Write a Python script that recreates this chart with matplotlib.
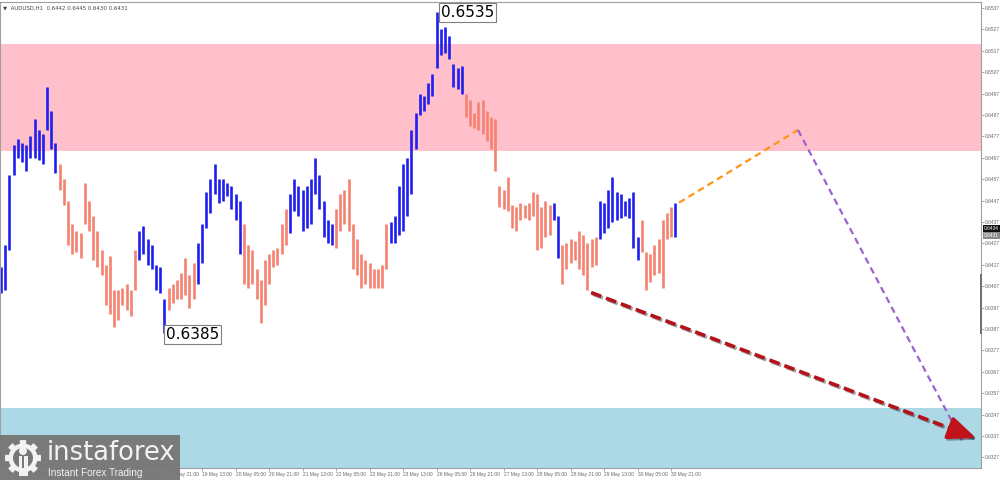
"""
AUDUSD H1 wave chart with forecast paths, redrawn with matplotlib.
"""
import numpy as np
import matplotlib
matplotlib.use('Agg')
import matplotlib.pyplot as plt
import matplotlib.patches as mpatches
import matplotlib.patheffects as pe
import matplotlib.transforms as mtransforms


# each bar below covers two hours of the H1 chart
BAR_HOURS = 2

bar_high = [
    0.6416, 0.6426, 0.6459, 0.6473, 0.6476, 0.6474, 0.6473, 0.6477, 0.6485, 0.6480,
    0.6478, 0.6500, 0.6489, 0.6474, 0.6464, 0.6457, 0.6447, 0.6436, 0.6433, 0.6432,
    0.6455, 0.6447, 0.6440, 0.6433, 0.6424, 0.6417, 0.6421, 0.6405, 0.6405, 0.6406,
    0.6408, 0.6405, 0.6424, 0.6433, 0.6435, 0.6429, 0.6426, 0.6417, 0.6416, 0.6401,
    0.6406, 0.6408, 0.6410, 0.6413, 0.6420, 0.6412, 0.6418, 0.6427, 0.6436, 0.6451,
    0.6457, 0.6464, 0.6457, 0.6457, 0.6455, 0.6454, 0.6450, 0.6447, 0.6436, 0.6426,
    0.6424, 0.6415, 0.6410, 0.6419, 0.6422, 0.6424, 0.6425, 0.6436, 0.6443, 0.6450,
    0.6457, 0.6454, 0.6452, 0.6454, 0.6457, 0.6467, 0.6459, 0.6447, 0.6438, 0.6436,
    0.6443, 0.6450, 0.6452, 0.6457, 0.6436, 0.6429, 0.6422, 0.6419, 0.6418, 0.6415,
    0.6415, 0.6417, 0.6436, 0.6437, 0.6440, 0.6454, 0.6464, 0.6467, 0.6480, 0.6488,
    0.6497, 0.6496, 0.6502, 0.6506, 0.6535, 0.6527, 0.6528, 0.6524, 0.6511, 0.6509,
    0.6510, 0.6497, 0.6494, 0.6488, 0.6493, 0.6494, 0.6489, 0.6486, 0.6485, 0.6454,
    0.6452, 0.6458, 0.6445, 0.6444, 0.6446, 0.6445, 0.6446, 0.6451, 0.6450, 0.6444,
    0.6447, 0.6445, 0.6446, 0.6440, 0.6426, 0.6427, 0.6429, 0.6428, 0.6433, 0.6431,
    0.6427, 0.6429, 0.6430, 0.6447, 0.6446, 0.6452, 0.6458, 0.6451, 0.6450, 0.6447,
    0.6448, 0.6451, 0.6430, 0.6438, 0.6423, 0.6422, 0.6426, 0.6429, 0.6438, 0.6441,
    0.6444, 0.6446,
]

bar_low = [
    0.6404, 0.6405, 0.6424, 0.6459, 0.6467, 0.6465, 0.6461, 0.6467, 0.6467, 0.6466,
    0.6464, 0.6480, 0.6471, 0.6460, 0.6452, 0.6445, 0.6426, 0.6422, 0.6423, 0.6420,
    0.6436, 0.6433, 0.6419, 0.6416, 0.6412, 0.6398, 0.6394, 0.6388, 0.6391, 0.6398,
    0.6396, 0.6393, 0.6405, 0.6419, 0.6422, 0.6417, 0.6415, 0.6405, 0.6404, 0.6385,
    0.6396, 0.6399, 0.6401, 0.6401, 0.6403, 0.6397, 0.6401, 0.6408, 0.6418, 0.6434,
    0.6441, 0.6450, 0.6446, 0.6447, 0.6449, 0.6443, 0.6438, 0.6422, 0.6408, 0.6406,
    0.6408, 0.6401, 0.6390, 0.6398, 0.6408, 0.6416, 0.6417, 0.6422, 0.6426, 0.6432,
    0.6442, 0.6440, 0.6433, 0.6434, 0.6436, 0.6450, 0.6443, 0.6430, 0.6427, 0.6426,
    0.6425, 0.6433, 0.6436, 0.6433, 0.6415, 0.6412, 0.6406, 0.6408, 0.6406, 0.6406,
    0.6406, 0.6406, 0.6415, 0.6427, 0.6427, 0.6431, 0.6433, 0.6440, 0.6450, 0.6471,
    0.6487, 0.6489, 0.6492, 0.6496, 0.6509, 0.6515, 0.6516, 0.6513, 0.6500, 0.6499,
    0.6497, 0.6486, 0.6482, 0.6481, 0.6480, 0.6478, 0.6475, 0.6471, 0.6461, 0.6444,
    0.6443, 0.6442, 0.6434, 0.6433, 0.6438, 0.6439, 0.6438, 0.6440, 0.6424, 0.6425,
    0.6430, 0.6431, 0.6438, 0.6420, 0.6408, 0.6415, 0.6418, 0.6419, 0.6415, 0.6412,
    0.6405, 0.6416, 0.6417, 0.6429, 0.6432, 0.6434, 0.6437, 0.6438, 0.6439, 0.6440,
    0.6439, 0.6425, 0.6419, 0.6423, 0.6405, 0.6409, 0.6412, 0.6413, 0.6406, 0.6429,
    0.6430, 0.6430,
]

# bar index ranges of the rising waves (drawn blue), the rest are falling
up_waves = [(0, 13), (33, 39), (47, 57), (69, 79), (93, 110), (132, 133), (143, 152), (161, 161)]

resistance_zone = (0.6470, 0.6520)
support_zone = (0.6300, 0.6350)

# forecast paths, x in chart hours
orange_x = [323.8, 380.6]
orange_y = [0.6446, 0.6480]
purple_x = [380.6, 459.4]
purple_y = [0.6480, 0.6334]
red_x = [281.8, 465.6]
red_y = [0.6404, 0.6336]

high_mark = 0.6535
low_mark = 0.6385
ask_price = 0.6434
bid_price = 0.6431

time_ticks = [0, 16, 32, 48, 64, 80, 96, 112, 128, 144, 160, 176, 192, 208, 224,
              240, 256, 272, 288, 304, 320]
time_labels = ['13 May 13:00', '14 May 05:00', '14 May 21:00', '15 May 13:00',
               '16 May 05:00', '16 May 21:00', '19 May 13:00', '20 May 05:00',
               '20 May 21:00', '21 May 13:00', '22 May 05:00', '22 May 21:00',
               '23 May 13:00', '26 May 05:00', '26 May 21:00', '27 May 13:00',
               '28 May 05:00', '28 May 21:00', '29 May 13:00', '30 May 05:00',
               '30 May 21:00']
price_ticks = [0.6327, 0.6337, 0.6347, 0.6357, 0.6367, 0.6377, 0.6387, 0.6397,
               0.6407, 0.6417, 0.6427, 0.6437, 0.6447, 0.6457, 0.6467, 0.6477,
               0.6487, 0.6497, 0.6507, 0.6517, 0.6527, 0.6537]

UP_COLOUR = '#1f1fee'
DOWN_COLOUR = '#f58270'
FRAME = '#a0a0a0'
SMALL = dict(family='Liberation Sans', size=3.5)

fig = plt.figure(figsize=(10, 4.8), dpi=100, facecolor='white')
ax = fig.add_axes([0, 12 / 480, 0.981, 466 / 480])

ax.axhspan(*resistance_zone, color='#ffc0cb', lw=0, zorder=0)
ax.axhspan(*support_zone, color='#add8e6', lw=0, zorder=0)

hours = np.arange(len(bar_high)) * BAR_HOURS
colours = [DOWN_COLOUR] * len(bar_high)
for a, b in up_waves:
    for i in range(a, b + 1):
        colours[i] = UP_COLOUR
ax.vlines(hours, bar_low, bar_high, colors=colours, lw=1.9, zorder=2)

ax.plot(orange_x, orange_y, color='#ff9410', lw=1.6, dashes=(3, 2), zorder=3)
ax.plot(purple_x, purple_y, color='#9a63cf', lw=1.6, dashes=(3, 2), zorder=3)

shadow = [pe.SimpleLineShadow(offset=(1.2, -1.2), alpha=0.35), pe.Normal()]
head_x = red_x[-1] - 9
head_y = np.interp(head_x, red_x, red_y)
ax.plot([red_x[0], head_x], [red_y[0], head_y], color='#b3121a', lw=2.6,
        dashes=(3, 1.4), zorder=4, path_effects=shadow)
ax.annotate('', xy=(red_x[-1], red_y[-1]), xytext=(head_x, head_y),
            arrowprops=dict(arrowstyle='-|>,head_length=1.2,head_width=0.5',
                            color='#c0121a', lw=2.6, mutation_scale=14,
                            shrinkA=0, shrinkB=0, path_effects=shadow),
            zorder=4)

box = dict(boxstyle='square,pad=0.12', fc='white', ec='#808080', lw=0.8)
ax.text(hours[104] + 2.2, high_mark - 0.00035, f'{high_mark:.4f}', fontsize=11,
        ha='left', va='bottom', bbox=box, zorder=5)
ax.text(hours[39] + 0.6, low_mark + 0.00030, f'{low_mark:.4f}', fontsize=11,
        ha='left', va='top', bbox=box, zorder=5)

ax.set_xlim(-0.5, 468)
ax.set_ylim(0.63220, 0.65398)

ax.yaxis.tick_right()
ax.set_yticks(price_ticks)
ax.set_yticklabels([f'{p:.4f}' for p in price_ticks], **SMALL)
ax.set_xticks(time_ticks)
ax.set_xticklabels(time_labels, ha='left', **SMALL)
ax.tick_params(axis='both', length=2, width=0.6, color=FRAME,
               labelcolor='#666666', pad=1.0)
for s in ax.spines.values():
    s.set_color(FRAME)
    s.set_linewidth(0.8)

tag_tr = mtransforms.blended_transform_factory(ax.transAxes, ax.transData)

# darker stretch on the price scale, as on the terminal
ax.plot([1, 1], [0.6412, 0.6385], transform=tag_tr, color='#707070', lw=1.4,
        clip_on=False, zorder=6)

ax.text(1.003, ask_price, f'{ask_price:.4f}', transform=tag_tr, color='white',
        va='center', ha='left', clip_on=False, **SMALL,
        bbox=dict(boxstyle='square,pad=0.25', fc='#101010', ec='none'))
ax.text(1.003, bid_price - 0.00003, f'{bid_price:.4f}', transform=tag_tr,
        color='white', va='center', ha='left', clip_on=False, **SMALL,
        bbox=dict(boxstyle='square,pad=0.25', fc='#8a8a8a', ec='none'))

fig.text(0.003, 1 - 8 / 480, '\u25bc  AUDUSD,H1  0.6442 0.6445 0.6430 0.6431',
         fontsize=3.9, color='#444444', va='center', ha='left')

# instaforex badge, bottom left
logo = fig.add_axes([0, 0, 0.18, 45 / 480])
logo.set_xlim(0, 180)
logo.set_ylim(0, 45)
logo.axis('off')
logo.set_zorder(10)
logo.add_patch(mpatches.Rectangle((0, 0), 180, 45, fc='#777777', ec='none', alpha=0.96))

ang = np.linspace(0, 2 * np.pi, 241)
teeth = 8
r = np.where(np.cos(teeth * ang) > 0.1, 18, 14.5)
gx, gy = 23 + r * np.cos(ang), 22 + r * np.sin(ang)
logo.add_patch(mpatches.Polygon(np.column_stack([gx, gy]), closed=True,
                                fc='#f2f2f2', ec='none'))
logo.add_patch(mpatches.Circle((23, 22), 10, fc='#777777', ec='none'))
logo.add_patch(mpatches.Circle((23, 29), 4, fc='#f2f2f2', ec='none'))
logo.add_patch(mpatches.Rectangle((18.5, 4), 3.5, 20, fc='#f2f2f2', ec='none'))
logo.add_patch(mpatches.Rectangle((24, 4), 3.5, 20, fc='#f2f2f2', ec='none'))

logo.text(47, 20, 'instaforex', fontsize=18.5, color='#f2f2f2', ha='left',
          va='baseline', family='DejaVu Sans')
logo.text(48, 4, 'Instant Forex Trading', fontsize=7.2, color='#f2f2f2', ha='left',
          va='baseline', family='Liberation Sans')

fig.savefig('out.png', dpi=100, facecolor='white')
